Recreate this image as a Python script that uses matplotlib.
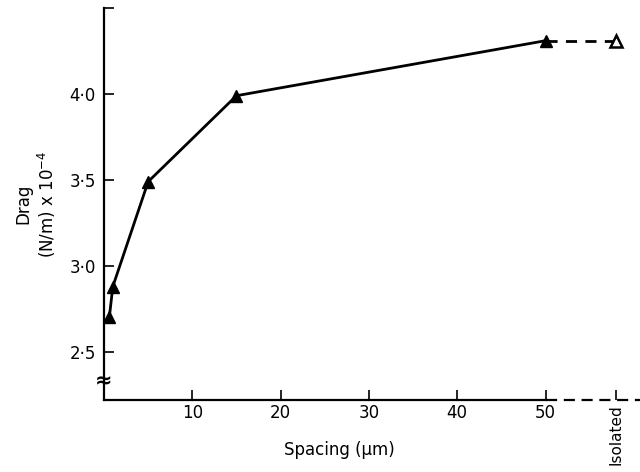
import matplotlib
matplotlib.use("Agg")
import matplotlib.pyplot as plt

# measured drag for each spacing (um)
spacing = [0.6, 1, 5, 15, 50]
drag = [2.70, 2.88, 3.49, 3.99, 4.31]
isolated_x = 58
isolated_drag = 4.31

xticks = [10, 20, 30, 40, 50, isolated_x]
xlabels = ['10', '20', '30', '40', '50', 'Isolated']
yticks = [2.5, 3.0, 3.5, 4.0, 4.5]
ylabels = ['2·5', '3·0', '3·5', '4·0', '']

plt.rcParams['font.family'] = 'DejaVu Sans'
fig = plt.figure(figsize=(6.4, 4.72), dpi=100)
ax = fig.add_axes([0.1625, 0.1525, 0.8375, 0.8305])

xmax = 60.7
ymin, ymax = 2.22, 4.5
ax.set_xlim(0, xmax)
ax.set_ylim(ymin, ymax)

ax.plot(spacing, drag, '-^', color='black', lw=2.0, ms=9, clip_on=False)
ax.plot([spacing[-1], isolated_x], [drag[-1], isolated_drag], '--', color='black',
        lw=2.0, dashes=(4, 3))
ax.plot([isolated_x], [isolated_drag], '^', mfc='white', mec='black', mew=1.8, ms=8)

for s in ['top', 'right']:
    ax.spines[s].set_visible(False)
ax.spines['left'].set_linewidth(1.6)
ax.spines['bottom'].set_linewidth(1.6)
ax.spines['bottom'].set_bounds(0, 50)
ax.plot([50, xmax], [ymin, ymin], '--', color='black', lw=1.6, dashes=(5, 3), clip_on=False)

ax.set_xticks(xticks)
ax.set_xticklabels(xlabels)
ax.set_yticks(yticks)
ax.set_yticklabels(ylabels)
ax.tick_params(direction='in', length=7, width=1.2, labelsize=12)
ax.tick_params(axis='x', pad=3)
ax.tick_params(axis='y', pad=6)
iso = ax.get_xticklabels()[-1]
iso.set_rotation(90)
iso.set_va('top')
iso.set_fontsize(11)

# axis break mark
ax.text(0, 2.33, '≈', fontsize=15, fontweight='bold', ha='center', va='center',
        transform=ax.transData, clip_on=False)

ax.set_xlabel('Spacing (μm)', fontsize=12)
ax.xaxis.set_label_coords(0.44, -0.105)
ax.set_ylabel('Drag\n(N/m) x 10$^{-4}$', fontsize=12, labelpad=8)

fig.savefig('out.png', dpi=100)
